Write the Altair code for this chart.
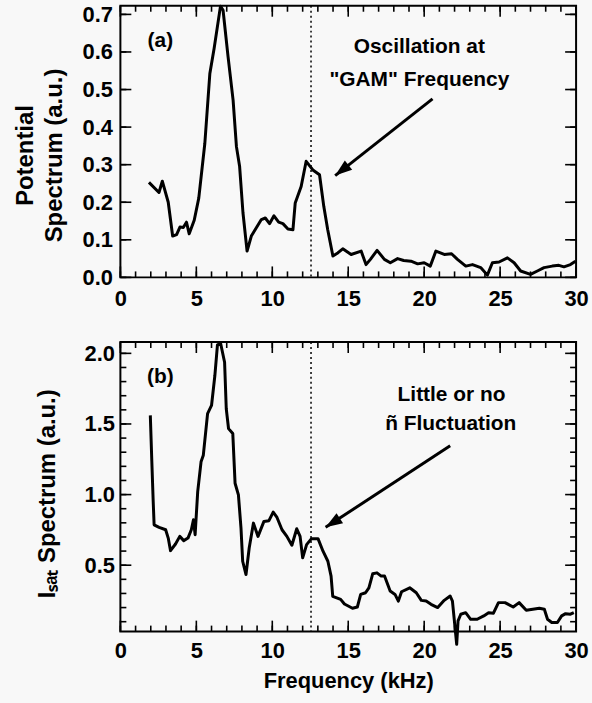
import altair as alt
import pandas as pd

# ---------------- data ----------------
# Panel (a): potential spectrum
freq_a = [1.88, 2.54, 2.76, 3.15, 3.44, 3.70, 3.92, 4.14, 4.35, 4.53, 4.86, 5.16, 5.56, 5.89,
          6.17, 6.59, 6.76, 7.09, 7.42, 7.64, 7.85, 8.07, 8.34, 8.62, 8.95, 9.28, 9.54, 9.82,
          10.11, 10.42, 10.70, 11.03, 11.36, 11.51, 11.90, 12.23, 12.67, 13.11, 13.39, 13.65,
          13.99, 14.31, 14.64, 15.19, 15.85, 16.17, 16.46, 16.90, 17.38, 17.77, 18.25, 18.65,
          19.13, 19.57, 20.00, 20.40, 20.77, 21.32, 21.80, 22.19, 22.74, 23.18, 23.72, 24.16,
          24.49, 24.93, 25.48, 25.92, 26.35, 27.00, 27.45, 27.89, 28.43, 28.87, 29.20, 29.63,
          29.96]
pot_a = [0.253, 0.226, 0.256, 0.200, 0.110, 0.114, 0.134, 0.133, 0.147, 0.116, 0.152, 0.211,
         0.357, 0.543, 0.609, 0.722, 0.711, 0.587, 0.472, 0.348, 0.295, 0.172, 0.070, 0.110,
         0.132, 0.154, 0.158, 0.143, 0.164, 0.147, 0.143, 0.129, 0.127, 0.198, 0.242, 0.309,
         0.286, 0.273, 0.189, 0.127, 0.057, 0.065, 0.076, 0.061, 0.070, 0.034, 0.048, 0.072,
         0.048, 0.039, 0.050, 0.045, 0.043, 0.036, 0.039, 0.030, 0.070, 0.061, 0.063, 0.048,
         0.030, 0.034, 0.026, 0.006, 0.039, 0.041, 0.052, 0.039, 0.017, 0.008, 0.017, 0.026,
         0.030, 0.032, 0.028, 0.034, 0.043]

# Panel (b): Isat spectrum
freq_b = [1.97, 2.07, 2.16, 2.22, 2.55, 2.98, 3.15, 3.30, 3.63, 3.91, 4.17, 4.45, 4.67, 4.81,
          4.92, 5.09, 5.31, 5.46, 5.74, 6.00, 6.22, 6.39, 6.60, 6.86, 6.97, 7.12, 7.40, 7.55,
          7.77, 7.94, 8.05, 8.27, 8.48, 8.76, 9.06, 9.45, 9.78, 10.06, 10.31, 10.64, 10.96,
          11.29, 11.61, 11.83, 12.00, 12.26, 12.58, 13.01, 13.34, 13.66, 13.87, 13.98, 14.50,
          14.75, 15.28, 15.60, 15.82, 16.14, 16.36, 16.61, 16.89, 17.17, 17.39, 17.76, 18.08,
          18.30, 18.51, 19.05, 19.48, 19.81, 20.13, 20.45, 20.89, 21.32, 21.71, 21.86, 22.14,
          22.23, 22.41, 22.73, 23.06, 23.49, 23.92, 24.24, 24.56, 24.89, 25.32, 25.86, 26.25,
          26.72, 27.15, 27.58, 27.91, 28.12, 28.40, 28.77, 29.05, 29.31, 29.63, 29.85]
isat_b = [1.561, 1.232, 0.951, 0.786, 0.768, 0.751, 0.692, 0.603, 0.650, 0.704, 0.674, 0.692,
          0.751, 0.822, 0.716, 1.021, 1.232, 1.279, 1.573, 1.631, 1.843, 2.060, 2.070, 1.937,
          1.608, 1.467, 1.432, 1.080, 0.998, 0.763, 0.528, 0.434, 0.622, 0.798, 0.704, 0.810,
          0.815, 0.876, 0.838, 0.751, 0.704, 0.641, 0.758, 0.704, 0.552, 0.646, 0.688, 0.688,
          0.599, 0.528, 0.423, 0.280, 0.258, 0.225, 0.195, 0.204, 0.293, 0.305, 0.340, 0.439,
          0.446, 0.423, 0.423, 0.317, 0.293, 0.246, 0.312, 0.340, 0.305, 0.251, 0.246, 0.223,
          0.200, 0.251, 0.282, 0.246, -0.060, 0.106, 0.153, 0.164, 0.117, 0.117, 0.141, 0.164,
          0.160, 0.235, 0.235, 0.204, 0.235, 0.181, 0.188, 0.195, 0.188, 0.117, 0.094, 0.094,
          0.141, 0.157, 0.153, 0.164]

# tick values / labels
x_major = [0, 5, 10, 15, 20, 25, 30]
x_minor = [0, 1, 2, 3, 4, 5, 6, 7, 8, 9, 10, 11, 12, 13, 14, 15, 16, 17, 18, 19, 20,
           21, 22, 23, 24, 25, 26, 27, 28, 29, 30]
ya_major = [0.0, 0.1, 0.2, 0.3, 0.4, 0.5, 0.6, 0.7]
yb_major = [0.5, 1.0, 1.5, 2.0]
yb_minor = [0.1, 0.2, 0.3, 0.4, 0.5, 0.6, 0.7, 0.8, 0.9, 1.0, 1.1, 1.2, 1.3, 1.4, 1.5,
            1.6, 1.7, 1.8, 1.9, 2.0]

gam_freq = 12.55

# annotations (data coordinates)
texts_a = ["(a)", "Oscillation at", "\"GAM\" Frequency"]
text_a_f = [2.63, 19.68, 19.68]
text_a_v = [0.629, 0.613, 0.525]
arrow_a = {"f": [20.55], "v": [0.475], "f2": [14.14], "v2": [0.271]}

texts_b = ["(b)", "Little or no", "ñ Fluctuation"]
text_b_f = [2.63, 21.8, 21.75]
text_b_v = [1.833, 1.706, 1.502]
arrow_b = {"f": [21.71], "v": [1.345], "f2": [13.51], "v2": [0.768]}

FONT = "Liberation Sans"
ARROW = "M0,0 L-1.2,3.4 L1.2,3.4 Z"
W = 458
XDOM = [0, 30]
MAJ = 11   # tick length, px
MIN = 6


def panel(freq, vals, ydom, y_lab, y_maj, y_min, ytitle, title_y, title_pad, ylab_pad,
          xlab_pad, xtitle, height, texts, tf, tv, arrow, arrow_angle):
    xs = alt.Scale(domain=XDOM, nice=False, zero=False)
    ys = alt.Scale(domain=ydom, nice=False, zero=False)
    df = pd.DataFrame({"f": freq, "v": vals})

    xaxis_kw = dict(orient="bottom", values=x_major, ticks=False, tickSize=0, domain=False,
                    grid=False, labelFont=FONT, labelFontSize=22, labelFontWeight="bold",
                    labelColor="black", labelPadding=xlab_pad, labelFlush=False,
                    labelOverlap=False)
    if xtitle:
        xaxis = alt.Axis(title=xtitle, titleFont=FONT, titleFontSize=22,
                         titleFontWeight="bold", titleColor="black", titlePadding=9,
                         **xaxis_kw)
    else:
        xaxis = alt.Axis(title=None, **xaxis_kw)
    yaxis = alt.Axis(
        orient="left", values=y_lab, format=".1f", ticks=False, tickSize=0,
        domain=False, grid=False, labelFont=FONT, labelFontSize=22,
        labelFontWeight="bold", labelColor="black", labelPadding=ylab_pad,
        labelFlush=False, labelOverlap=False,
        title=ytitle, titleFont=FONT, titleFontSize=24, titleFontWeight="bold",
        titleColor="black", titlePadding=title_pad, titleY=title_y,
        titleLineHeight=29)

    def X(field):
        return alt.X(field, scale=xs, axis=xaxis)

    def Y(field):
        return alt.Y(field, scale=ys, axis=yaxis)

    main = alt.Chart(df).mark_line(color="black", strokeWidth=3, strokeJoin="round").encode(
        x=X("f:Q"), y=Y("v:Q")
    )

    # inward tick marks, drawn through the same scales
    px_x = (XDOM[1] - XDOM[0]) / W
    px_y = (ydom[1] - ydom[0]) / height

    def ticks(vals_, side, length):
        if side in ("left", "right"):
            ln = length * px_x
            a = XDOM[0] if side == "left" else XDOM[1] - ln
            d = pd.DataFrame({"t": vals_, "a": [a] * len(vals_), "b": [a + ln] * len(vals_)})
            enc = dict(y=Y("t:Q"), x=X("a:Q"), x2="b:Q")
        else:
            ln = length * px_y
            a = ydom[0] if side == "bottom" else ydom[1] - ln
            d = pd.DataFrame({"t": vals_, "a": [a] * len(vals_), "b": [a + ln] * len(vals_)})
            enc = dict(x=X("t:Q"), y=Y("a:Q"), y2="b:Q")
        return alt.Chart(d).mark_rule(color="black", strokeWidth=1.6).encode(**enc)

    tick_layers = [
        ticks(x_major, "bottom", MAJ), ticks(x_minor, "bottom", MIN),
        ticks(x_major, "top", MAJ), ticks(x_minor, "top", MIN),
        ticks(y_maj, "left", MAJ), ticks(y_min, "left", MIN),
        ticks(y_maj, "right", MAJ), ticks(y_min, "right", MIN),
    ]

    vline = alt.Chart(pd.DataFrame({"f": [gam_freq]})).mark_rule(
        color="black", strokeWidth=1.5, strokeDash=[2, 3]
    ).encode(x=X("f:Q"))

    tdf = pd.DataFrame({"f": tf, "v": tv, "t": texts})
    text = alt.Chart(tdf).mark_text(
        font=FONT, fontSize=21, fontWeight="bold", color="black", align="center",
        baseline="middle"
    ).encode(x=X("f:Q"), y=Y("v:Q"), text="t:N")

    adf = pd.DataFrame(arrow)
    aline = alt.Chart(adf).mark_rule(color="black", strokeWidth=3).encode(
        x=X("f:Q"), y=Y("v:Q"), x2="f2:Q", y2="v2:Q",
    )
    ahead = alt.Chart(adf).mark_point(
        shape=ARROW, size=100, angle=arrow_angle, filled=True, color="black", opacity=1
    ).encode(x=X("f2:Q"), y=Y("v2:Q"))

    return alt.layer(main, *tick_layers, vline, text, aline, ahead).properties(
        width=W, height=height
    )


top = panel(freq_a, pot_a, [0, 0.723], ya_major, ya_major, ya_major,
            ["Potential", "Spectrum (a.u.)"], 150, 16, 8, 11, None, 273,
            texts_a, text_a_f, text_a_v, arrow_a, 232)
bottom = panel(freq_b, isat_b, [0.03, 2.08], yb_major, yb_major, yb_minor,
               "Iₛₐₜ Spectrum (a.u.)", 152, 25, 6, 9, "Frequency (kHz)", 291,
               texts_b, text_b_f, text_b_v, arrow_b, 237)

chart = alt.vconcat(top, bottom, spacing=30).properties(
    padding={"left": 12, "top": 0, "right": 2, "bottom": 10},
    background="#f8f8f8",
).configure_view(stroke="black", strokeWidth=2)

chart.save("out.html", embed_options={"renderer": "svg", "actions": False})
